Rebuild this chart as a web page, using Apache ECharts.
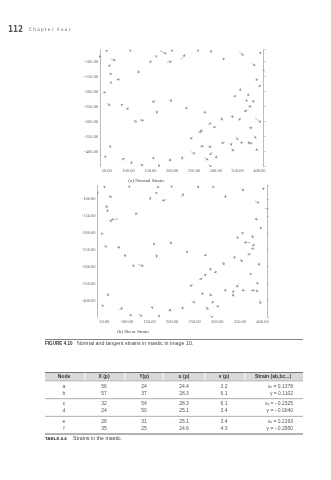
<!DOCTYPE html>
<html><head><meta charset="utf-8">
<script src="https://cdn.jsdelivr.net/npm/echarts@6/dist/echarts.min.js"></script>
<style>html,body{margin:0;padding:0;background:#fff}#c{width:331px;height:480px}</style>
</head><body><div id="c"></div>
<script>
// ---- data ----
const nodeX = [50,104,172,199,256,293,354,402,38,59,54,58,123,148,165,188,220,318,383,406,81,62,46,50,85,94,111,125,162,166,195,231,272,342,356,377,373,383,383,375,391,398,390,357,338,313,299,282,270,259,247,376,387,347,335,321,362,373,385,394,337,282,292,243,264,304,273,283,56,48,83,107,126,155,172,195,222];
const nodeY = [-62,-62,-63,-61,-67,-61,-67,-67,-83,-91,-117,-137,-139,-103,-83,-102,-94,-87,-106,-128,-159,-168,-200,-237,-244,-263,-294,-294,-230,-263,-224,-252,-263,-212,-197,-206,-228,-234,-248,-261,-159,-183,-287,-286,-278,-286,-314,-310,-328,-339,-352,-319,-346,-350,-370,-368,-370,-370,-372,-397,-389,-380,-401,-400,-381,-417,-420,-444,-379,-417,-428,-442,-441,-417,-441,-433,-428];
const normalU = [0,0,15,2,6,-6,10,0,-8,11,4,2,0,5,-4,11,10,0,8,12,-8,-5,-3,8,-3,6,8,10,-8,-2,4,4,5,4,0,-4,-5,6,-8,-10,6,6,14,-4,0,2,-4,8,-6,8,-6,8,6,4,0,-8,-6,6,-8,0,4,8,-6,10,8,-6,10,8,4,-4,8,0,8,4,-4,0,2];
const normalV = [-6,-5,-11,-6,8,-8,-12,-8,0,-5,8,-8,10,6,3,3,18,-8,-8,-4,0,-4,-6,-10,3,10,-8,-2,-5,-10,-10,-6,-10,-6,8,-8,-4,4,-2,-5,-2,4,-16,-10,-10,-10,-8,6,-4,8,-6,-2,-10,-12,-10,-4,0,0,0,8,-10,-6,-10,-8,0,0,-8,-8,-8,2,6,10,-6,-8,-10,10,12];
const shearU = [1,3,-6,0,4,-4,4,0,-6,8,2,-2,-4,6,2,-10,6,0,10,14,-16,4,-2,6,-6,4,6,12,-4,0,4,4,4,6,0,2,-14,-6,-8,-8,-8,-4,4,-6,0,2,-6,6,6,8,-8,-4,4,-4,0,-6,-8,10,6,2,-4,6,-4,8,6,-6,8,8,4,-4,8,4,8,2,-2,0,2];
const shearV = [-6,-4,-4,-6,6,-6,-10,-6,2,-4,-10,6,-8,8,4,-3,10,-10,-6,-2,-2,6,-6,-6,2,-8,-6,-4,-6,-10,-10,-8,-6,-4,-8,-10,0,-4,2,-4,0,-6,-10,6,10,-10,-4,4,6,4,-6,-6,-6,-12,-8,-4,0,0,0,-14,8,-6,-8,-8,2,0,-6,-8,-8,4,6,-4,-6,-8,-10,8,10];
const xTickValues = [50,100,150,200,250,300,350,400];
const yTickValues = [-100,-150,-200,-250,-300,-350,-400];
const captionA = '(a) Normal Strain';
const captionB = '(b) Shear Strain';
const pageNumber = '112';
const chapterTitle = 'C h a p t e r   F o u r';
const figureLabel = 'FIGURE 4.10';
const figureText = 'Normal and tangent strains in mastic in image 10.';
const tableLabel = 'TABLE 4.4';
const tableText = 'Strains in the mastic.';
const tableHeaders = ['Node','X (p)','Y(p)','u (p)','v (p)','Strain (ab,bc...)'];
const nodeNames = ['a','b','c','d','e','f'];
const tableX = [56,57,32,24,26,35];
const tableY = [24,37,54,50,31,25];
const tableU = ['24.4','28.3','28.3','25.1','25.1','24.6'];
const tableV = ['3.2','6.1','6.1','3.4','3.4','4.3'];
const tableStrain = ['\u03b5\u2093 = 0.1378','\u03b3 = 0.1102','\u03b5\u1d67 = \u22120.2325','\u03b3 = \u22120.0040','\u03b5\u2093 = 0.2193','\u03b3 = \u22120.2950'];

// ---- build ----
const chart = echarts.init(document.getElementById('c'), null, {renderer:'canvas'});
const serif = 'Liberation Serif, DejaVu Serif, serif';
const sans = 'Liberation Sans, Arial, sans-serif';
function vecData(U,V){ return nodeX.map((x,i)=>({coords:[[x,nodeY[i]],[x+U[i],nodeY[i]+V[i]]]})); }
const grids = [
  {left:100.2, top:49.7, width:163.5, height:117},
  {left:97.5, top:185.5, width:169.5, height:131.8}
];
const xAxes = [], yAxes = [];
grids.forEach((g,gi)=>{
  xAxes.push({gridIndex:gi, type:'value', min:35, max:410, interval:5,
    axisLine:{show:false}, axisTick:{show:false}, splitLine:{show:false},
    axisLabel:{margin:2, fontSize:4.5, fontFamily:serif, color:'#666',
      formatter:v=> xTickValues.indexOf(Math.round(v))>=0 && Math.abs(v-Math.round(v))<1e-6 ? Math.round(v).toFixed(2) : ''}});
  yAxes.push({gridIndex:gi, type:'value', min:-450, max:-60, interval:50, position:'left',
    axisLine:{show:true, lineStyle:{color:'#aaa', width:0.8}}, axisTick:{show:false}, splitLine:{show:false},
    axisLabel:{margin:2, fontSize:4.5, fontFamily:serif, color:'#666',
      formatter:v=> yTickValues.indexOf(v)>=0 ? v.toFixed(2) : ''}});
  yAxes.push({gridIndex:gi, type:'value', min:-450, max:-60, interval:50, position:'right',
    axisLine:{show:true, lineStyle:{color:'#aaa', width:0.8}}, axisTick:{show:true, length:2, lineStyle:{color:'#aaa',width:0.6}},
    splitLine:{show:false}, axisLabel:{show:false}});
});
const arrowStyle = {color:'#8c8c8c', width:0.55, opacity:1};
const series = [
  {type:'lines', coordinateSystem:'cartesian2d', xAxisIndex:0, yAxisIndex:0, symbol:['none','arrow'], symbolSize:2.4,
   lineStyle:arrowStyle, data:vecData(normalU,normalV), silent:true},
  {type:'lines', coordinateSystem:'cartesian2d', xAxisIndex:1, yAxisIndex:2, symbol:['none','arrow'], symbolSize:2.4,
   lineStyle:arrowStyle, data:vecData(shearU,shearV), silent:true}
];

// graphic: page text and table
const gfx = [];
function txt(x,y,t,opt){ gfx.push({type:'text', x:x, y:y, style:Object.assign({text:t, fill:'#333', fontSize:5, fontFamily:sans, textVerticalAlign:'middle', textAlign:'left'}, opt||{})}); }
function line(x1,y1,x2,y2,c,w){ gfx.push({type:'line', shape:{x1:x1,y1:y1,x2:x2,y2:y2}, style:{stroke:c, lineWidth:w}}); }
txt(8,30,pageNumber,{fontSize:8, fontWeight:'bold', fontFamily:'DejaVu Sans Condensed, DejaVu Sans', fill:'#555'});
txt(29,30,chapterTitle,{fontSize:4.6, fontFamily:'DejaVu Sans Condensed, DejaVu Sans', fill:'#555'});
txt(146,181,captionA,{fontSize:5, fontFamily:serif, textAlign:'center', fill:'#444'});
txt(133,332,captionB,{fontSize:5, fontFamily:serif, textAlign:'center', fill:'#444'});
line(45,339.5,303,339.5,'#666',0.8);
txt(45,344,figureLabel,{fontSize:4.6, fontWeight:'bold', fill:'#333'});
txt(77,344,figureText,{fontSize:5.3, fill:'#444'});
// table
const tL=45, tR=303, tTop=372.5, hBot=381, tBot=434;
gfx.push({type:'rect', shape:{x:tL,y:tTop,width:tR-tL,height:hBot-tTop}, style:{fill:'#d9d9d9'}});
line(tL,tTop,tR,tTop,'#555',0.8);
line(tL,hBot,tR,hBot,'#888',0.5);
const sepX=[85,125,163,205,245];
sepX.forEach(x=>line(x,tTop,x,hBot,'#fff',0.8));
const colC=[64,104,144,184,224,273];
tableHeaders.forEach((h,i)=>txt(colC[i],377,h,{textAlign:'center', fontWeight:'bold', fontSize:5, fill:'#333'}));
const groupH=(tBot-hBot)/3;
for(let gi=1;gi<3;gi++) line(tL,hBot+gi*groupH,tR,hBot+gi*groupH,'#777',0.6);
line(tL,tBot,tR,tBot,'#555',0.9);
nodeNames.forEach((n,i)=>{
  const g=Math.floor(i/2), k=i%2;
  const y=hBot+g*groupH+(k?12.3:5.2);
  const row=[n,String(tableX[i]),String(tableY[i]),tableU[i],tableV[i]];
  row.forEach((v,j)=>txt(colC[j],y,v,{textAlign:'center', fontSize:5, fill:'#555'}));
  txt(293,y,tableStrain[i],{textAlign:'right', fontSize:5, fill:'#555'});
});
txt(45,438.5,tableLabel,{fontSize:4.4, fontWeight:'bold', fill:'#333'});
txt(73,438.5,tableText,{fontSize:5.3, fill:'#444'});

chart.setOption({
  animation:false,
  grid:grids, xAxis:xAxes, yAxis:yAxes, series:series, graphic:gfx
});
</script></body></html>
